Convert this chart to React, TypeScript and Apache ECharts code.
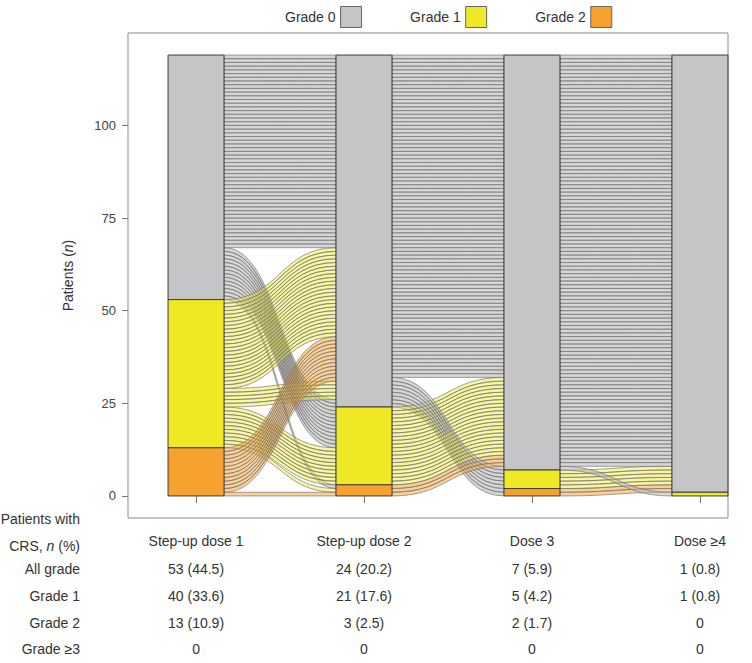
import React, { useEffect, useRef } from "react";
import * as echarts from "echarts";

// ---------- data ----------
const doses = ["Step-up dose 1", "Step-up dose 2", "Dose 3", "Dose ≥4"];
const gradeNames = ["Grade 0", "Grade 1", "Grade 2"];
// CRS grade of each patient pathway at [Step-up dose 1, Step-up dose 2, Dose 3, Dose ≥4]
const pathways = [
  [0, 0, 0, 0],
  [0, 0, 2, 0],
  [0, 1, 0, 0],
  [0, 2, 0, 0],
  [1, 0, 0, 0],
  [1, 0, 1, 0],
  [1, 1, 0, 0],
  [1, 2, 0, 0],
  [2, 0, 0, 0],
  [2, 0, 0, 1],
  [2, 2, 0, 0],
];
const pathwayCounts = [52, 2, 11, 1, 24, 5, 10, 1, 11, 1, 1];
const yTicks = [0, 25, 50, 75, 100];
const tableRowLabels = ["All grade", "Grade 1", "Grade 2", "Grade ≥3"];
const allGradeRow = ["53 (44.5)", "24 (20.2)", "7 (5.9)", "1 (0.8)"];
const grade1Row = ["40 (33.6)", "21 (17.6)", "5 (4.2)", "1 (0.8)"];
const grade2Row = ["13 (10.9)", "3 (2.5)", "2 (1.7)", "0"];
const grade3Row = ["0", "0", "0", "0"];

// ---------- styling ----------
const gradeColors = ["#c5c5c7", "#efe824", "#f7a22f"];
const flowColors = [
  "rgba(180,180,182,0.55)",
  "rgba(239,232,36,0.42)",
  "rgba(247,162,47,0.5)",
];
const FONT = "Liberation Sans, Arial, sans-serif";
const HALF = 1 / 6; // half bar width in axis units
// lode ordering within strata: which other axes decide the order
const sortKeys = [
  [1, 2, 3],
  [2, 0, 3],
  [3, 1, 0],
  [2, 1, 0],
];

function buildLayout() {
  const patients: { g: number[]; gi: number }[] = [];
  pathways.forEach((p, gi) => {
    for (let k = 0; k < pathwayCounts[gi]; k++) patients.push({ g: p, gi });
  });
  const N = patients.length;
  const pos = doses.map((_, a) => {
    const idx = patients.map((_, i) => i);
    idx.sort((i, j) => {
      const A = patients[i];
      const B = patients[j];
      if (A.g[a] !== B.g[a]) return A.g[a] - B.g[a];
      for (const k of sortKeys[a]) if (A.g[k] !== B.g[k]) return A.g[k] - B.g[k];
      return A.gi - B.gi || i - j;
    });
    const top = new Array(N);
    let y = N;
    idx.forEach((i) => {
      top[i] = y;
      y -= 1;
    });
    return top as number[];
  });
  const flows: number[][] = [];
  patients.forEach((p, i) => {
    for (let a = 0; a < doses.length - 1; a++) {
      flows.push([a + 1, pos[a][i], pos[a + 1][i], p.g[a]]);
    }
  });
  // strata per grade
  const strata = gradeNames.map((_, g) =>
    doses
      .map((_, a) => {
        const cnt = (gg: number) => patients.filter((p) => p.g[a] === gg).length;
        let bottom = 0;
        for (let gg = gradeNames.length - 1; gg > g; gg--) bottom += cnt(gg);
        const c = cnt(g);
        return [a + 1, bottom, bottom + c, c];
      })
      .filter((d) => d[3] > 0)
  );
  return { flows, strata, N };
}

export default function App() {
  const ref = useRef<HTMLDivElement>(null);
  useEffect(() => {
    document.body.style.margin = "0";
    if (!ref.current) return;
    const chart = echarts.init(ref.current, undefined, { renderer: "svg" });
    const { flows, strata, N } = buildLayout();
    const yMin = -N * 0.05;
    const yMax = N * 1.05;

    const flowSeries: any = {
      type: "custom",
      name: "flows",
      coordinateSystem: "cartesian2d",
      z: 1,
      silent: true,
      data: flows,
      renderItem: (params: any, api: any) => {
        const a = api.value(0);
        const t0 = api.value(1);
        const t1 = api.value(2);
        const g = api.value(3);
        const xL = a + HALF;
        const xR = a + 1 - HALF;
        const pTL = api.coord([xL, t0]);
        const pBL = api.coord([xL, t0 - 1]);
        const pTR = api.coord([xR, t1]);
        const pBR = api.coord([xR, t1 - 1]);
        const xm = (pTL[0] + pTR[0]) / 2;
        const d =
          `M${pTL[0]},${pTL[1]} C${xm},${pTL[1]} ${xm},${pTR[1]} ${pTR[0]},${pTR[1]} ` +
          `L${pBR[0]},${pBR[1]} C${xm},${pBR[1]} ${xm},${pBL[1]} ${pBL[0]},${pBL[1]} Z`;
        return {
          type: "path",
          shape: { pathData: d },
          style: {
            fill: flowColors[g],
            stroke: "rgba(115,115,115,0.85)",
            lineWidth: 0.8,
          },
        };
      },
    };

    const strataSeries = gradeNames.map((name, g) => ({
      type: "custom",
      name,
      coordinateSystem: "cartesian2d",
      z: 3,
      silent: true,
      itemStyle: { color: gradeColors[g] },
      data: strata[g],
      renderItem: (params: any, api: any) => {
        const x = api.value(0);
        const b = api.value(1);
        const t = api.value(2);
        const p0 = api.coord([x - HALF, t]);
        const p1 = api.coord([x + HALF, b]);
        return {
          type: "rect",
          shape: { x: p0[0], y: p0[1], width: p1[0] - p0[0], height: p1[1] - p0[1] },
          style: { fill: gradeColors[g], stroke: "#3c3c3c", lineWidth: 1 },
        };
      },
    }));

    const xBase = {
      type: "value",
      min: 0.595,
      max: 4.167,
      position: "bottom",
      splitLine: { show: false },
      axisLine: { show: false },
    };
    const tableRows = [allGradeRow, grade1Row, grade2Row, grade3Row];
    const rowOffsets = [28, 55, 82, 108];
    const xCats = [1, 2, 3, 4];

    const option: any = {
      animation: false,
      textStyle: { fontFamily: FONT },
      grid: {
        left: 128,
        right: 24,
        top: 33,
        bottom: 145,
        show: true,
        borderColor: "#8a8a8a",
        borderWidth: 1,
        backgroundColor: "transparent",
      },
      legend: {
        left: 280,
        top: 1,
        align: "right",
        itemWidth: 21,
        itemHeight: 21,
        itemGap: 48,
        icon: "rect",
        textStyle: { fontSize: 14, color: "#333", fontFamily: FONT },
        data: gradeNames.map((name, g) => ({
          name,
          itemStyle: { color: gradeColors[g], borderColor: "#666", borderWidth: 1 },
        })),
        selectedMode: false,
      },
      xAxis: [
        {
          ...xBase,
          axisTick: {
            show: true,
            customValues: xCats,
            length: 7,
            lineStyle: { color: "#777" },
          },
          axisLabel: {
            customValues: xCats,
            formatter: (v: number) => doses[Math.round(v) - 1],
            fontSize: 14,
            color: "#333",
            margin: 16,
            fontFamily: FONT,
          },
        },
        ...tableRows.map((row, r) => ({
          ...xBase,
          offset: rowOffsets[r],
          axisTick: { show: false },
          axisLabel: {
            customValues: xCats,
            formatter: (v: number) => row[Math.round(v) - 1],
            fontSize: 14,
            color: "#333",
            margin: 16,
            fontFamily: FONT,
          },
        })),
      ],
      yAxis: {
        type: "value",
        min: yMin,
        max: yMax,
        splitLine: { show: false },
        axisLine: { show: false },
        axisTick: {
          show: true,
          customValues: yTicks,
          length: 6,
          lineStyle: { color: "#777" },
        },
        axisLabel: {
          customValues: yTicks,
          fontSize: 13,
          color: "#444",
          margin: 12,
          fontFamily: FONT,
        },
        name: "{a|Patients (}{i|n}{a|)}",
        nameLocation: "middle",
        nameGap: 53,
        nameTextStyle: {
          fontSize: 14,
          color: "#333",
          fontFamily: FONT,
          rich: {
            a: { fontSize: 14, color: "#333", fontFamily: FONT },
            i: { fontSize: 14, color: "#333", fontFamily: FONT, fontStyle: "italic" },
          },
        },
      },
      graphic: [
        { text: "Patients with", y: 519 },
        { text: "{a|CRS, }{i|n}{a| (%)}", y: 546 },
        ...tableRowLabels.map((t, r) => ({ text: t, y: 541 + rowOffsets[r] })),
      ].map((it) => ({
        type: "text",
        x: 80,
        y: it.y,
        style: {
          text: it.text,
          align: "right",
          verticalAlign: "middle",
          fontSize: 14,
          fill: "#333",
          fontFamily: FONT,
          rich: {
            a: { fontSize: 14, fill: "#333", fontFamily: FONT },
            i: { fontSize: 14, fill: "#333", fontFamily: FONT, fontStyle: "italic" },
          },
        },
      })),
      series: [flowSeries, ...strataSeries],
    };
    chart.setOption(option);
    return () => chart.dispose();
  }, []);
  return <div ref={ref} style={{ width: 752, height: 663 }} />;
}
